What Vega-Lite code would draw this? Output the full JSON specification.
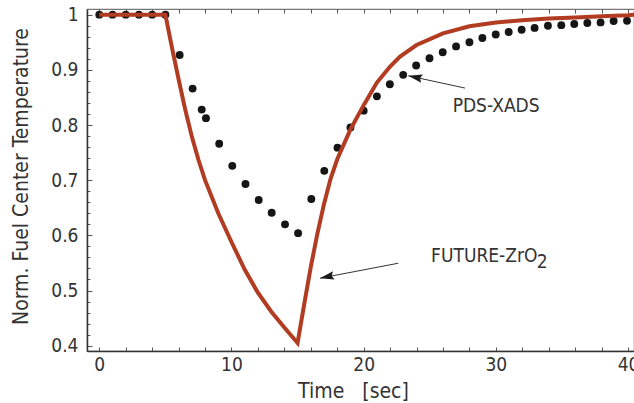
{
  "$schema": "https://vega.github.io/schema/vega-lite/v6.json",
  "width": 547,
  "height": 342,
  "autosize": "none",
  "padding": {"left": 87, "top": 9, "right": 0, "bottom": 52},
  "background": "white",
  "config": {
    "view": {"stroke": "#777", "strokeWidth": 1.2},
    "font": "DejaVu Sans Condensed, DejaVu Sans",
    "axis": {
      "grid": false,
      "labelFont": "DejaVu Sans Condensed, DejaVu Sans",
      "titleFont": "DejaVu Sans Condensed, DejaVu Sans",
      "labelFontSize": 19,
      "titleFontSize": 21,
      "titleFontWeight": "normal",
      "labelColor": "#333",
      "titleColor": "#333",
      "tickColor": "#555",
      "tickWidth": 1,
      "domainColor": "#333",
      "domainWidth": 1.5
    }
  },
  "datasets": {
    "pds": [
      {"t": 0, "v": 1}, {"t": 1, "v": 1}, {"t": 2, "v": 1}, {"t": 3, "v": 1}, {"t": 4, "v": 1}, {"t": 5, "v": 1},
      {"t": 6.08, "v": 0.927}, {"t": 7.06, "v": 0.866}, {"t": 7.75, "v": 0.828}, {"t": 8.07, "v": 0.8125},
      {"t": 9.07, "v": 0.766}, {"t": 10.06, "v": 0.726}, {"t": 11.06, "v": 0.693}, {"t": 12.06, "v": 0.664},
      {"t": 13.04, "v": 0.641}, {"t": 14.05, "v": 0.62}, {"t": 15.04, "v": 0.604}, {"t": 16.04, "v": 0.666},
      {"t": 17.02, "v": 0.717}, {"t": 18.02, "v": 0.759}, {"t": 19.0, "v": 0.7955}, {"t": 20.0, "v": 0.826},
      {"t": 21.0, "v": 0.852}, {"t": 21.98, "v": 0.874}, {"t": 22.99, "v": 0.891}, {"t": 23.97, "v": 0.908},
      {"t": 24.98, "v": 0.921}, {"t": 25.98, "v": 0.932}, {"t": 26.99, "v": 0.9425}, {"t": 28.0, "v": 0.95},
      {"t": 28.98, "v": 0.9577}, {"t": 29.99, "v": 0.964}, {"t": 30.97, "v": 0.9686}, {"t": 31.95, "v": 0.9728},
      {"t": 32.93, "v": 0.976}, {"t": 33.94, "v": 0.98}, {"t": 34.95, "v": 0.981}, {"t": 35.93, "v": 0.983},
      {"t": 36.92, "v": 0.985}, {"t": 37.92, "v": 0.986}, {"t": 38.91, "v": 0.9885}, {"t": 39.92, "v": 0.989}
    ],
    "future": [
      {"t": 0, "v": 1}, {"t": 5, "v": 1}, {"t": 5.5, "v": 0.94}, {"t": 6, "v": 0.883}, {"t": 6.5, "v": 0.828},
      {"t": 7, "v": 0.779}, {"t": 7.5, "v": 0.737}, {"t": 8, "v": 0.70}, {"t": 9, "v": 0.64},
      {"t": 10, "v": 0.588}, {"t": 11, "v": 0.538}, {"t": 12, "v": 0.496}, {"t": 13, "v": 0.462},
      {"t": 14, "v": 0.433}, {"t": 15, "v": 0.405}, {"t": 15.5, "v": 0.475}, {"t": 16, "v": 0.543},
      {"t": 16.5, "v": 0.603}, {"t": 17, "v": 0.657}, {"t": 17.5, "v": 0.703}, {"t": 18, "v": 0.738},
      {"t": 19, "v": 0.792}, {"t": 20, "v": 0.836}, {"t": 21, "v": 0.877}, {"t": 22, "v": 0.906},
      {"t": 22.75, "v": 0.924}, {"t": 24, "v": 0.945}, {"t": 26, "v": 0.966}, {"t": 28, "v": 0.979},
      {"t": 30, "v": 0.986}, {"t": 32, "v": 0.99}, {"t": 34, "v": 0.993}, {"t": 36, "v": 0.995},
      {"t": 38, "v": 0.997}, {"t": 40, "v": 0.999}, {"t": 40.5, "v": 1.0}
    ],
    "arrows": [
      {"name": "PDS-XADS", "x": 27.66, "y": 0.867, "x2": 23.37, "y2": 0.8893},
      {"name": "FUTURE-ZrO2", "x": 22.62, "y": 0.5495, "x2": 16.69, "y2": 0.5223}
    ],
    "labels": [
      {"label": "PDS-XADS", "x": 26.73, "y": 0.834},
      {"label": "FUTURE-ZrO", "x": 25.1, "y": 0.5628},
      {"label": "2", "x": 33.1, "y": 0.551}
    ]
  },
  "layer": [
    {
      "data": {"name": "pds"},
      "mark": {"type": "point", "filled": true, "shape": "circle", "size": 62, "color": "#151515", "opacity": 1},
      "encoding": {
        "x": {"field": "t", "type": "quantitative",
          "scale": {"domain": [-0.93, 40.45], "nice": false, "zero": false},
          "axis": {"orient": "bottom", "values": [0,2,4,6,8,10,12,14,16,18,20,22,24,26,28,30,32,34,36,38,40], "labels": false, "domain": false, "tickSize": -4, "title": null}},
        "y": {"field": "v", "type": "quantitative",
          "scale": {"domain": [0.3904, 1.0103], "nice": false, "zero": false},
          "axis": {"orient": "left", "values": [0.4,0.42,0.44,0.46,0.48,0.5,0.52,0.54,0.56,0.58,0.6,0.62,0.64,0.66,0.68,0.7,0.72,0.74,0.76,0.78,0.8,0.82,0.84,0.86,0.88,0.9,0.92,0.94,0.96,0.98,1], "labels": false, "domain": false, "tickSize": -3, "title": null}}
      }
    },
    {
      "data": {"name": "future"},
      "mark": {"type": "line", "color": "#b23c22", "strokeWidth": 4, "clip": true},
      "encoding": {
        "x": {"field": "t", "type": "quantitative",
          "axis": {"orient": "bottom", "values": [0,10,20,30,40], "ticks": false, "labelPadding": 4, "labelBaseline": "top",
            "title": "Time\u00a0\u00a0\u00a0[sec]", "titleX": 266, "titleY": 46, "titleAlign": "center", "titleBaseline": "alphabetic", "titleAnchor": null}},
        "y": {"field": "v", "type": "quantitative",
          "axis": {"orient": "left", "values": [0.4,0.5,0.6,0.7,0.8,0.9,1], "format": ".1~f", "tickSize": -5, "labelPadding": 14,
            "title": "Norm. Fuel Center Temperature", "titleX": -66, "titleY": 167, "titleAlign": "center", "titleBaseline": "middle", "titleAngle": -90}}
      }
    },
    {
      "data": {"name": "arrows"},
      "mark": {"type": "rule", "color": "#333", "strokeWidth": 1},
      "encoding": {
        "x": {"field": "x", "type": "quantitative",
          "axis": {"orient": "top", "values": [0,2,4,6,8,10,12,14,16,18,20,22,24,26,28,30,32,34,36,38,40], "labels": false, "domain": false, "tickSize": -4, "title": null}},
        "y": {"field": "y", "type": "quantitative", "axis": null},
        "x2": {"field": "x2"},
        "y2": {"field": "y2"}
      }
    },
    {
      "data": {"name": "arrows"},
      "transform": [{"filter": "datum.name == 'PDS-XADS'"}],
      "mark": {"type": "point", "filled": true, "shape": "M0,0L0.6,2L0,1.7L-0.6,2Z", "size": 200, "color": "#1a1a1a", "opacity": 1, "angle": 282},
      "encoding": {
        "x": {"field": "x2", "type": "quantitative", "axis": null},
        "y": {"field": "y2", "type": "quantitative", "axis": null}
      }
    },
    {
      "data": {"name": "arrows"},
      "transform": [{"filter": "datum.name == 'FUTURE-ZrO2'"}],
      "mark": {"type": "point", "filled": true, "shape": "M0,0L0.6,2L0,1.7L-0.6,2Z", "size": 200, "color": "#1a1a1a", "opacity": 1, "angle": 258.7},
      "encoding": {
        "x": {"field": "x2", "type": "quantitative", "axis": null},
        "y": {"field": "y2", "type": "quantitative", "axis": null}
      }
    },
    {
      "data": {"name": "labels"},
      "mark": {"type": "text", "align": "left", "baseline": "middle", "fontSize": 19, "color": "#333", "font": "DejaVu Sans Condensed, DejaVu Sans"},
      "encoding": {
        "x": {"field": "x", "type": "quantitative", "axis": null},
        "y": {"field": "y", "type": "quantitative", "axis": null},
        "text": {"field": "label"}
      }
    }
  ],
  "resolve": {"axis": {"x": "independent", "y": "independent"}}
}
